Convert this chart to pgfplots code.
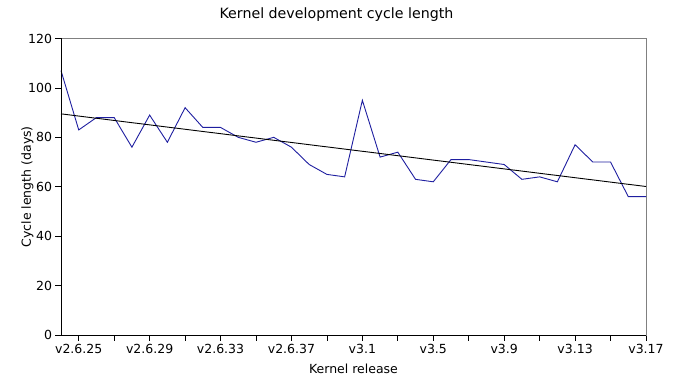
\documentclass[border=0pt]{standalone}
\usepackage{fontspec}
\setmainfont{DejaVu Sans}
\usepackage{pgfplots}
\pgfplotsset{compat=1.18}
\definecolor{lineblue}{RGB}{30,30,160}
\definecolor{framegray}{RGB}{128,128,128}
\begin{document}
\begin{tikzpicture}
\useasboundingbox (-61bp,-52bp) rectangle (613bp,335bp);
\begin{axis}[
  at={(0,0)}, anchor=south west,
  scale only axis,
  width=585bp, height=296.5bp,
  xmin=0, xmax=33, ymin=0, ymax=120,
  ytick={0,20,...,120},
  xtick={1,3,...,33},
  xticklabels={v2.6.25,,v2.6.29,,v2.6.33,,v2.6.37,,v3.1,,v3.5,,v3.9,,v3.13,,v3.17},
  tick align=outside,
  xtick pos=bottom, ytick pos=left,
  major tick length=5.5bp,
  major tick style={black, line width=0.8bp},
  axis line style={framegray, line width=0.9bp},
  /pgf/number format/assume math mode=true,
  tick label style={font=\fontsize{12.5bp}{15bp}\selectfont},
  label style={font=\fontsize{12.5bp}{15bp}\selectfont},
  title style={font=\fontsize{14.2bp}{17bp}\selectfont, anchor=center, at={(0.5,1)}, yshift=17.5bp, xshift=-17bp},
  title={Kernel development cycle length},
  xlabel={Kernel release},
  ylabel={Cycle length (days)},
  xlabel style={anchor=center, at={(0.5,0)}, yshift=-34bp},
  ylabel style={anchor=center, at={(0,0.5)}, yshift=33.5bp},
  clip=false,
]
\addplot[lineblue, line width=0.9bp] coordinates {
(0,107) (1,83) (2,88) (3,88) (4,76) (5,89) (6,78) (7,92) (8,84) (9,84)
(10,80) (11,78) (12,80) (13,76) (14,69) (15,65) (16,64) (17,95) (18,72) (19,74)
(20,63) (21,62) (22,71) (23,71) (24,70) (25,69) (26,63) (27,64) (28,62) (29,77)
(30,70) (31,70) (32,56) (33,56)
};
\addplot[black, line width=0.9bp] coordinates {(0,89.5) (33,60.1)};
\draw[black, line width=0.9bp] (rel axis cs:0,1) -- (rel axis cs:0,0) -- (rel axis cs:1,0);
\end{axis}
\end{tikzpicture}
\end{document}
